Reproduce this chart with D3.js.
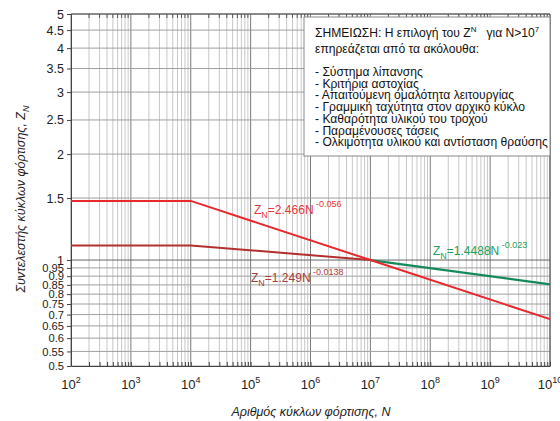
<!DOCTYPE html>
<html>
<head>
<meta charset="utf-8">
<script src="https://cdn.jsdelivr.net/npm/d3@7"></script>
<style>
  html, body { margin: 0; padding: 0; background: #fff; }
  svg { display: block; font-family: "Liberation Sans", Arial, sans-serif; }
</style>
</head>
<body>
<svg id="chart" width="560" height="421"></svg>
<script>
// Cycle-count exponents for the x axis (10^2 … 10^10)
const xDecades = [2, 3, 4, 5, 6, 7, 8, 9, 10];
// Y tick values for the life factor Z_N
const yTicks = [0.5, 0.55, 0.6, 0.65, 0.7, 0.75, 0.8, 0.85, 0.9, 0.95, 1, 1.5, 2, 2.5, 3, 3.5, 4, 4.5, 5];

// Life-factor curves: [N, Z_N]
const upperCurve = [[1e2, 1.4723], [1e4, 1.4723], [1e7, 1.0000], [1e10, 0.6792]];   // Z_N = 2.466 N^-0.056
const lowerCurve = [[1e2, 1.0999], [1e4, 1.0999], [1e7, 1.0000]];                   // Z_N = 1.249 N^-0.0138
const tailCurve  = [[1e7, 1.0000], [1e10, 0.8531]];                                 // Z_N = 1.4488 N^-0.023

// Note text
const noteHead = ["ΣΗΜΕΙΩΣΗ: Η επιλογή του Z", "N", "   για N>10", "7"];
const noteSub = "επηρεάζεται από τα ακόλουθα:";
const noteItems = [
  "- Σύστημα λίπανσης",
  "- Κριτήρια αστοχίας",
  "- Απαιτούμενη ομαλότητα λειτουργίας",
  "- Γραμμική ταχύτητα στον αρχικό κύκλο",
  "- Καθαρότητα υλικού του τροχού",
  "- Παραμένουσες τάσεις",
  "- Ολκιμότητα υλικού και αντίσταση θραύσης"
];

(function () {
const svg = d3.select("#chart");
const pL = 71, pR = 550, pT = 14, pB = 366;

const x = d3.scaleLog().domain([1e2, 1e10]).range([pL, pR]);
const y = d3.scaleLog().domain([0.5, 5]).range([pB, pT]);

const g = svg.append("g");

// Vertical grid: minor (2..9) and major decades
const minorX = [];
for (let d = 2; d < 10; d++) for (let m = 2; m <= 9; m++) minorX.push(m * Math.pow(10, d));
g.selectAll("line.vminor").data(minorX).join("line")
  .attr("x1", d => x(d)).attr("x2", d => x(d))
  .attr("y1", pT).attr("y2", pB)
  .attr("stroke", "#c8c8c8").attr("stroke-width", 1);
g.selectAll("line.vmajor").data(xDecades).join("line")
  .attr("x1", d => x(Math.pow(10, d))).attr("x2", d => x(Math.pow(10, d)))
  .attr("y1", pT).attr("y2", pB)
  .attr("stroke", "#7a7a7a").attr("stroke-width", 1);

// Horizontal grid
g.selectAll("line.h").data(yTicks).join("line")
  .attr("x1", pL).attr("x2", pR)
  .attr("y1", d => y(d)).attr("y2", d => y(d))
  .attr("stroke", d => d === 1 ? "#666" : "#a0a0a0").attr("stroke-width", 1);

// Top edge with inward minor ticks
g.append("line").attr("x1", pL).attr("x2", pR).attr("y1", pT).attr("y2", pT)
  .attr("stroke", "#444");
g.selectAll("line.tt").data(minorX).join("line")
  .attr("x1", d => x(d)).attr("x2", d => x(d))
  .attr("y1", pT).attr("y2", pT + 4).attr("stroke", "#555");
g.append("line").attr("x1", pR).attr("x2", pR).attr("y1", pT).attr("y2", pB)
  .attr("stroke", "#555");

// Left axis
const yAxis = d3.axisLeft(y).tickValues(yTicks).tickSize(4).tickSizeOuter(0)
  .tickFormat(d => String(d));
const ya = svg.append("g").attr("transform", `translate(${pL},0)`).call(yAxis);
ya.select(".domain").attr("stroke", "#444");
ya.selectAll(".tick line").attr("stroke", "#444");
ya.selectAll(".tick text").attr("font-size", d => d < 1 ? 11.2 : 12.5).attr("fill", "#222")
  .attr("font-family", "Liberation Sans, Arial, sans-serif").attr("x", -7);

// Bottom axis: inward minor ticks, labels with superscript exponents
const xAxis = d3.axisBottom(x).tickValues(minorX.concat(xDecades.map(d => Math.pow(10, d))))
  .tickSize(-4).tickSizeOuter(0).tickFormat("");
const xa = svg.append("g").attr("transform", `translate(0,${pB})`).call(xAxis);
xa.select(".domain").attr("stroke", "#444");
xa.selectAll(".tick line").attr("stroke", "#444");

const xl = svg.append("g").selectAll("text").data(xDecades).join("text")
  .attr("x", d => x(Math.pow(10, d)))
  .attr("y", 389)
  .attr("text-anchor", "middle")
  .attr("font-size", 13).attr("fill", "#222");
xl.append("tspan").text("10");
xl.append("tspan").attr("dy", -6).attr("font-size", 9).text(d => d);

// Curves
const line = d3.line().x(d => x(d[0])).y(d => y(d[1]));
svg.append("path").datum(lowerCurve).attr("d", line)
  .attr("fill", "none").attr("stroke", "#b2302f").attr("stroke-width", 2);
svg.append("path").datum(tailCurve).attr("d", line)
  .attr("fill", "none").attr("stroke", "#148a5a").attr("stroke-width", 2.2);
svg.append("path").datum(upperCurve).attr("d", line)
  .attr("fill", "none").attr("stroke", "#e8282c").attr("stroke-width", 2);

// Curve equation labels
function eqLabel(px, py, coef, expo, color) {
  const t = svg.append("text").attr("x", px).attr("y", py)
    .attr("font-size", 12).attr("fill", color);
  t.append("tspan").text("Z");
  t.append("tspan").attr("dy", 4).attr("font-size", 9).text("N");
  t.append("tspan").attr("dy", -4).text("=" + coef + "N");
  t.append("tspan").attr("dy", -7).attr("font-size", 9).text(expo);
}
eqLabel(254, 214, "2.466", " -0.056", "#e8383c");
eqLabel(251, 282, "1.249", " -0.0138", "#b03a3a");
eqLabel(433, 255, "1.4488", " -0.023", "#22a060");

// Note box
svg.append("rect").attr("x", 304).attr("y", 17).attr("width", 246).attr("height", 139)
  .attr("fill", "#fff").attr("stroke", "#888").attr("stroke-width", 1);
const nh = svg.append("text").attr("x", 315).attr("y", 37).attr("font-size", 12.1).attr("fill", "#111")
  .attr("xml:space", "preserve").style("white-space", "pre");
nh.append("tspan").text(noteHead[0]);
nh.append("tspan").attr("dy", -5).attr("font-size", 8).text(noteHead[1]);
nh.append("tspan").attr("dy", 5).text(noteHead[2]);
nh.append("tspan").attr("dy", -5).attr("font-size", 8).text(noteHead[3]);
svg.append("text").attr("x", 315).attr("y", 53).attr("font-size", 12.1).attr("fill", "#111").text(noteSub);
svg.append("g").selectAll("text").data(noteItems).join("text")
  .attr("x", 315).attr("y", (d, i) => 76 + i * 11.7)
  .attr("font-size", 12.1).attr("fill", "#111").text(d => d);

// Axis titles
svg.append("text").attr("x", 311).attr("y", 416).attr("text-anchor", "middle")
  .attr("font-size", 12.5).attr("font-style", "italic").attr("fill", "#222")
  .text("Αριθμός κύκλων φόρτισης, N");
const yt = svg.append("text").attr("transform", "translate(25,199) rotate(-90)")
  .attr("text-anchor", "middle").attr("font-size", 12.5).attr("font-style", "italic").attr("fill", "#222");
yt.append("tspan").text("Συντελεστής κύκλων φόρτισης, Z");
yt.append("tspan").attr("dy", 4).attr("font-size", 9).text("N");
})();
</script>
</body>
</html>
